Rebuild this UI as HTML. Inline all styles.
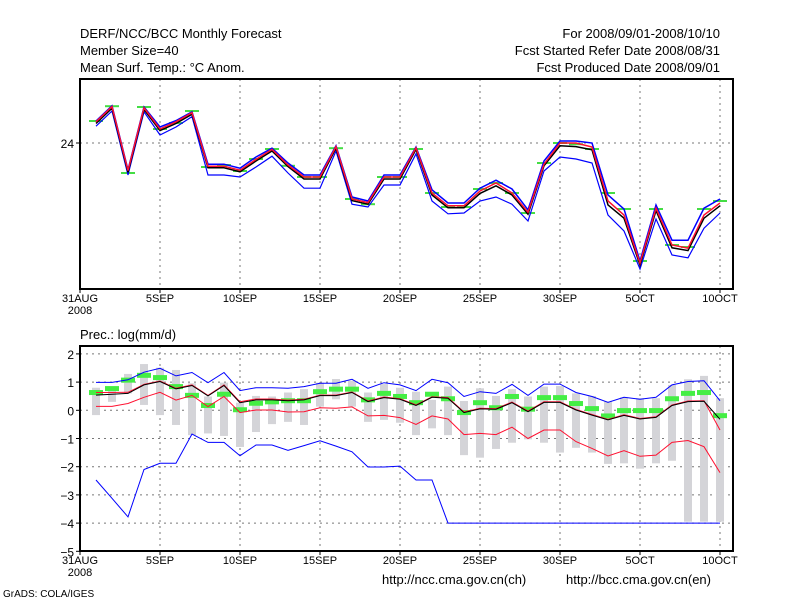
<!DOCTYPE html>
<html><head><meta charset="utf-8"><style>
body{margin:0;background:#fff}
svg{display:block}
text{font-family:"Liberation Sans",sans-serif;fill:#000}
</style></head><body>
<svg id="c" width="800" height="600" xmlns="http://www.w3.org/2000/svg">
<rect width="800" height="600" fill="#fff"/>
<g font-size="13">
<text x="80" y="38">DERF/NCC/BCC Monthly Forecast</text>
<text x="80" y="55">Member Size=40</text>
<text x="80" y="72">Mean Surf. Temp.: °C Anom.</text>
<text x="720" y="38" text-anchor="end">For 2008/09/01-2008/10/10</text>
<text x="720" y="55" text-anchor="end">Fcst Started Refer Date 2008/08/31</text>
<text x="720" y="72" text-anchor="end">Fcst Produced Date 2008/09/01</text>
<text x="80" y="339">Prec.: log(mm/d)</text>
<text x="382" y="584">http://ncc.cma.gov.cn(ch)</text>
<text x="566" y="584">http://bcc.cma.gov.cn(en)</text>
</g>
<text x="3" y="597" font-size="10">GrADS: COLA/IGES</text>
<g id="top"></g>
<g id="bot"></g>
</svg>
<script>
const days=[1,2,3,4,5,6,7,8,9,10,11,12,13,14,15,16,17,18,19,20,21,22,23,24,25,26,27,28,29,30,31,32,33,34,35,36,37,38,39,40];
const xTickDays=[0,5,10,15,20,25,30,35,40];
const xTickLabels=["31AUG","5SEP","10SEP","15SEP","20SEP","25SEP","30SEP","5OCT","10OCT"];
const tMean=[24.49,24.87,23.27,24.84,24.31,24.49,24.72,23.38,23.38,23.28,23.55,23.80,23.41,23.10,23.10,23.87,22.56,22.47,23.10,23.10,23.84,22.70,22.38,22.38,22.74,22.93,22.70,22.22,23.43,23.93,23.91,23.83,22.45,22.12,20.95,22.31,21.38,21.31,22.12,22.43];
const tRed=[24.53,24.91,23.31,24.88,24.35,24.53,24.76,23.42,23.42,23.32,23.59,23.84,23.45,23.15,23.15,23.91,22.60,22.51,23.15,23.15,23.88,22.75,22.43,22.43,22.80,23.00,22.75,22.27,23.47,24.00,24.00,23.90,22.55,22.20,21.00,22.37,21.45,21.37,22.20,22.50];
const tBlueHi=[24.55,24.93,23.33,24.90,24.40,24.56,24.78,23.47,23.47,23.37,23.65,23.87,23.50,23.20,23.20,23.93,22.65,22.55,23.20,23.20,23.90,22.83,22.50,22.50,22.87,23.07,22.85,22.33,23.55,24.05,24.05,24.00,22.70,22.35,21.05,22.45,21.57,21.57,22.37,22.60];
const tBlueLo=[24.42,24.80,23.20,24.78,24.20,24.40,24.66,23.20,23.20,23.15,23.40,23.67,23.25,22.87,22.87,23.80,22.47,22.40,22.95,22.95,23.73,22.55,22.23,22.25,22.55,22.65,22.47,22.05,23.30,23.65,23.60,23.50,22.20,21.80,20.85,22.10,21.20,21.13,21.87,22.25];
const tObs=[24.55,24.92,23.25,24.90,24.35,24.50,24.80,23.40,23.45,23.30,23.60,23.85,23.43,23.15,23.15,23.87,22.60,22.47,23.15,23.15,23.85,22.75,22.40,22.40,22.85,23.00,22.75,22.25,23.50,24.00,23.97,23.85,22.75,22.35,21.05,22.35,21.45,21.40,22.35,22.55];
const pMean=[0.54,0.57,0.6,0.9,1.02,0.76,0.88,0.51,0.88,0.27,0.37,0.37,0.34,0.37,0.52,0.52,0.63,0.31,0.45,0.39,0.17,0.46,0.43,-0.08,0.05,0.04,0.27,-0.05,0.28,0.28,0.01,-0.17,-0.34,-0.18,-0.31,-0.25,0.17,0.31,0.32,-0.32];
const pRedHi=[0.63,0.63,0.64,0.92,1.04,0.78,0.9,0.53,0.9,0.3,0.4,0.4,0.36,0.39,0.54,0.54,0.65,0.33,0.47,0.41,0.19,0.48,0.45,-0.06,0.07,0.06,0.29,-0.03,0.3,0.3,0.03,-0.15,-0.32,-0.16,-0.29,-0.23,0.19,0.33,0.34,-0.7];
const pRedLo=[0.14,0.14,0.24,0.46,0.64,0.36,0.53,0.13,0.49,-0.08,0.01,0.01,-0.06,-0.05,0.09,0.07,0.12,-0.2,-0.18,-0.26,-0.5,-0.2,-0.31,-0.86,-0.82,-0.86,-0.6,-1.0,-0.7,-0.7,-1.11,-1.35,-1.62,-1.43,-1.63,-1.59,-1.14,-1.07,-1.29,-2.21];
const pBlueHi=[0.99,0.99,1.08,1.35,1.49,1.22,1.34,0.98,1.34,0.7,0.8,0.8,0.78,0.84,0.96,0.96,1.1,0.78,0.98,0.9,0.7,1.1,0.98,0.49,0.66,0.6,0.92,0.53,0.93,0.93,0.63,0.49,0.28,0.46,0.39,0.46,0.9,1.02,1.05,0.34];
const pBlueLo=[-2.47,-3.12,-3.78,-2.1,-1.88,-1.88,-0.84,-1.14,-1.14,-1.61,-1.23,-1.23,-1.42,-1.25,-1.08,-1.27,-1.47,-2.01,-2.01,-1.98,-2.47,-2.47,-4,-4,-4,-4,-4,-4,-4,-4,-4,-4,-4,-4,-4,-4,-4,-4,-4,-4];
const pObs=[0.63,0.77,1.07,1.24,1.16,0.84,0.53,0.17,0.57,0.02,0.25,0.3,0.34,0.34,0.66,0.75,0.75,0.37,0.6,0.49,0.27,0.57,0.41,-0.08,0.27,0.09,0.49,0.04,0.45,0.45,0.24,0.06,-0.2,-0.01,-0.01,-0.01,0.41,0.6,0.63,-0.19];
const pRangeHi=[0.8,0.72,1.29,1.64,1.51,1.43,0.96,0.49,0.98,0.27,0.51,0.49,0.63,0.75,0.98,1.11,1.05,0.63,0.93,0.8,0.66,0.37,0.84,0.33,0.78,0.51,0.75,0.49,0.84,0.86,0.6,0.51,0.31,0.46,0.43,0.43,0.9,1.1,1.22,0.43];
const pRangeLo=[-0.17,0.3,0.6,0.19,-0.17,-0.52,-0.88,-0.82,-0.91,-1.3,-0.77,-0.49,-0.41,-0.52,0.13,0.39,0.13,-0.41,-0.34,-0.44,-0.88,-0.64,-0.88,-1.59,-1.68,-1.37,-1.15,-1.03,-1.15,-1.5,-1.33,-1.5,-1.9,-1.88,-2.07,-1.88,-1.79,-3.95,-3.95,-3.95];
const pTicks=[2,1,0,-1,-2,-3,-4,-5];
const tTicks=[24];

const NS="http://www.w3.org/2000/svg";
function mk(p,tag,a){const e=document.createElementNS(NS,tag);for(const k in a)e.setAttribute(k,a[k]);p.appendChild(e);return e;}
const X0=80,X1=733;
const xs=d=>80+16*d;
const yT=v=>143-(v-24)*40;
const yP=v=>410.3-v*28.2;

function panel(g,y0,y1b,yfun,ticks,name){
  xTickDays.forEach(d=>{ if(d>0){const l=mk(g,'line',{x1:xs(d),x2:xs(d),y1:y0,y2:y1b,stroke:'#777','stroke-dasharray':'2,4'});
    
    }});
  ticks.forEach(v=>{const y=yfun(v);if(y>y0+1&&y<y1b-1){const l=mk(g,'line',{x1:X0,x2:X1,y1:y,y2:y,stroke:'#777','stroke-dasharray':'2,4'});
    
    }
    const t=mk(g,'text',{x:X0-6,y:y+5,'text-anchor':'end','font-size':'12'});t.textContent=String(v).replace('-','\u2212');
    
    
    mk(g,'line',{x1:X0-4,x2:X0,y1:y,y2:y,stroke:'#000'});});
  const r=mk(g,'rect',{x:X0,y:y0,width:X1-X0,height:y1b-y0,fill:'none',stroke:'#000','stroke-width':2});
  
  
  xTickDays.forEach((d,i)=>{mk(g,'line',{x1:xs(d),x2:xs(d),y1:y1b,y2:y1b+4,stroke:'#000'});
    const t=mk(g,'text',{x:xs(d),y:y1b+13,'text-anchor':'middle','font-size':'11'});t.textContent=xTickLabels[i];
    
    });
  const y8=mk(g,'text',{x:xs(0),y:y1b+25,'text-anchor':'middle','font-size':'11'});y8.textContent='2008';
  
  
}
function line(g,vals,yfun,col,w,name){
  const pts=vals.map((v,i)=>xs(days[i])+','+yfun(v).toFixed(1)).join(' ');
  const p=mk(g,'polyline',{points:pts,fill:'none',stroke:col,'stroke-width':w});
  
  
}
const gTop=document.getElementById('top'),gBot=document.getElementById('bot');
panel(gTop,79,289,yT,tTicks,'temperature');
tObs.forEach((v,i)=>{const r=mk(gTop,'rect',{x:xs(days[i])-7,y:yT(v)-1,width:14,height:2,fill:'#44dd44'});
  
  });
line(gTop,tBlueLo,yT,'#0000ff',1.2,'temp-blue-lower');
line(gTop,tBlueHi,yT,'#0000ff',1.5,'temp-blue-upper');
line(gTop,tMean,yT,'#000',1.5,'temp-mean-line');
line(gTop,tRed,yT,'#ff1030',1.5,'temp-red-line');

panel(gBot,346,551,yP,pTicks,'precip');
pRangeHi.forEach((v,i)=>{const y1=yP(v),y2=yP(pRangeLo[i]);const r=mk(gBot,'rect',{x:xs(days[i])-4,y:y1,width:8,height:y2-y1,fill:'#d4d4d8'});
  
  });
pObs.forEach((v,i)=>{const r=mk(gBot,'rect',{x:xs(days[i])-7,y:yP(v)-2.5,width:14,height:5,fill:'#44ee44'});
  
  });
line(gBot,pBlueHi,yP,'#0000ff',1,'precip-blue-upper');
line(gBot,pBlueLo,yP,'#0000ff',1,'precip-blue-lower');
line(gBot,pRedLo,yP,'#ff1030',1,'precip-red-lower');
line(gBot,pRedHi,yP,'#ff1030',1,'precip-red-upper');
line(gBot,pMean,yP,'#000',1,'precip-mean-line');
</script>
</body></html>
